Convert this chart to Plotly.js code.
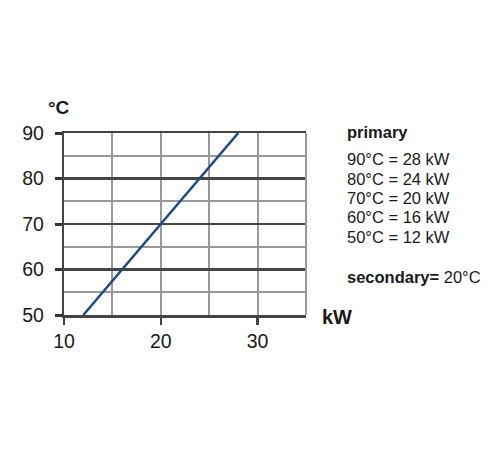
<!DOCTYPE html>
<html>
<head>
<meta charset="utf-8">
<script src="https://cdn.plot.ly/plotly-3.0.1.min.js"></script>
<style>
  body { margin: 0; background: #fff; }
  #chart { width: 500px; height: 450px; }
</style>
</head>
<body>
<div id="chart"></div>
<script>
// puissance (kW) pour chaque température primaire (°C)
const power = [12, 16, 20, 24, 28];
const temps = [50, 60, 70, 80, 90];
const secondaryTemp = 20;
const xTicks = [10, 20, 30];
const yTicks = [50, 60, 70, 80, 90];

const font = 'Liberation Sans, Arial, sans-serif';

let curve =
{
  x: power,
  y: temps,
  type: 'scatter',
  mode: 'lines',
  line: { color: '#1c4a87', width: 2.5 },
  hoverinfo: 'skip'
};

// petit espace invisible à droite des graduations de l'axe y
let gap = '<span style="font-size:12px;color:rgba(0,0,0,0)">0</span>';
let yLabels = yTicks.map(function(v) { return v + gap; });

// texte de droite : une ligne par point, du plus chaud au plus froid
let legendY = [0.856, 0.746, 0.642, 0.538, 0.428];
let notes = [];
for (let i = 0; i < temps.length; i++)
{
  let k = temps.length - 1 - i;
  notes.push({
    text: temps[k] + '°C = ' + power[k] + ' kW',
    xref: 'paper', yref: 'paper', x: 1.163, y: legendY[i],
    xanchor: 'left', yanchor: 'middle', showarrow: false,
    font: { family: font, size: 16.5, color: '#1a1a1a' }
  });
}
notes.push({
  text: '<b>primary</b>',
  xref: 'paper', yref: 'paper', x: 1.163, y: 1.004,
  xanchor: 'left', yanchor: 'middle', showarrow: false,
  font: { family: font, size: 16.5, color: '#1a1a1a' }
});
notes.push({
  text: '<b>secondary=</b> ' + secondaryTemp + '°C',
  xref: 'paper', yref: 'paper', x: 1.163, y: 0.21,
  xanchor: 'left', yanchor: 'middle', showarrow: false,
  font: { family: font, size: 16.5, color: '#1a1a1a' }
});
notes.push({
  text: '<b>°C</b>',
  xref: 'paper', yref: 'paper', x: -0.02, y: 1.138,
  xanchor: 'center', yanchor: 'middle', showarrow: false,
  font: { family: font, size: 19, color: '#1a1a1a' }
});
notes.push({
  text: '<b>kW</b>',
  xref: 'paper', yref: 'paper', x: 1.128, y: -0.011,
  xanchor: 'center', yanchor: 'middle', showarrow: false,
  font: { family: font, size: 20, color: '#1a1a1a' }
});

let layout =
{
  width: 500,
  height: 450,
  margin: { l: 63.5, r: 193.5, t: 132.7, b: 135, pad: 0 },
  paper_bgcolor: '#fff',
  plot_bgcolor: '#fff',
  showlegend: false,
  font: { family: font, size: 19, color: '#1a1a1a' },
  xaxis:
  {
    range: [10, 35],
    autorange: false,
    tickvals: xTicks,
    ticks: 'outside', ticklen: 7, tickwidth: 2.5, tickcolor: '#444',
    showgrid: true, gridcolor: '#999', gridwidth: 2,
    minor: { dtick: 5, showgrid: true, gridcolor: '#999', gridwidth: 2 },
    showline: true, mirror: true, linecolor: '#444', linewidth: 2.5,
    zeroline: false,
    tickfont: { family: font, size: 19.5, color: '#1a1a1a' }
  },
  yaxis:
  {
    range: [50, 90],
    autorange: false,
    tickvals: yTicks,
    ticktext: yLabels,
    ticks: 'outside', ticklen: 7, tickwidth: 3, tickcolor: '#333',
    showgrid: true, gridcolor: '#444', gridwidth: 2.5,
    minor: { dtick: 5, showgrid: true, gridcolor: '#999', gridwidth: 2 },
    showline: true, linecolor: '#444', linewidth: 2.5,
    zeroline: false,
    tickfont: { family: font, size: 19.5, color: '#1a1a1a' }
  },
  shapes:
  [
    { type: 'line', xref: 'paper', yref: 'paper', x0: 1, x1: 1, y0: 0, y1: 1,
      line: { color: '#999', width: 2 } }
  ],
  annotations: notes
};

Plotly.newPlot('chart', [curve], layout, { staticPlot: true });
</script>
</body>
</html>
